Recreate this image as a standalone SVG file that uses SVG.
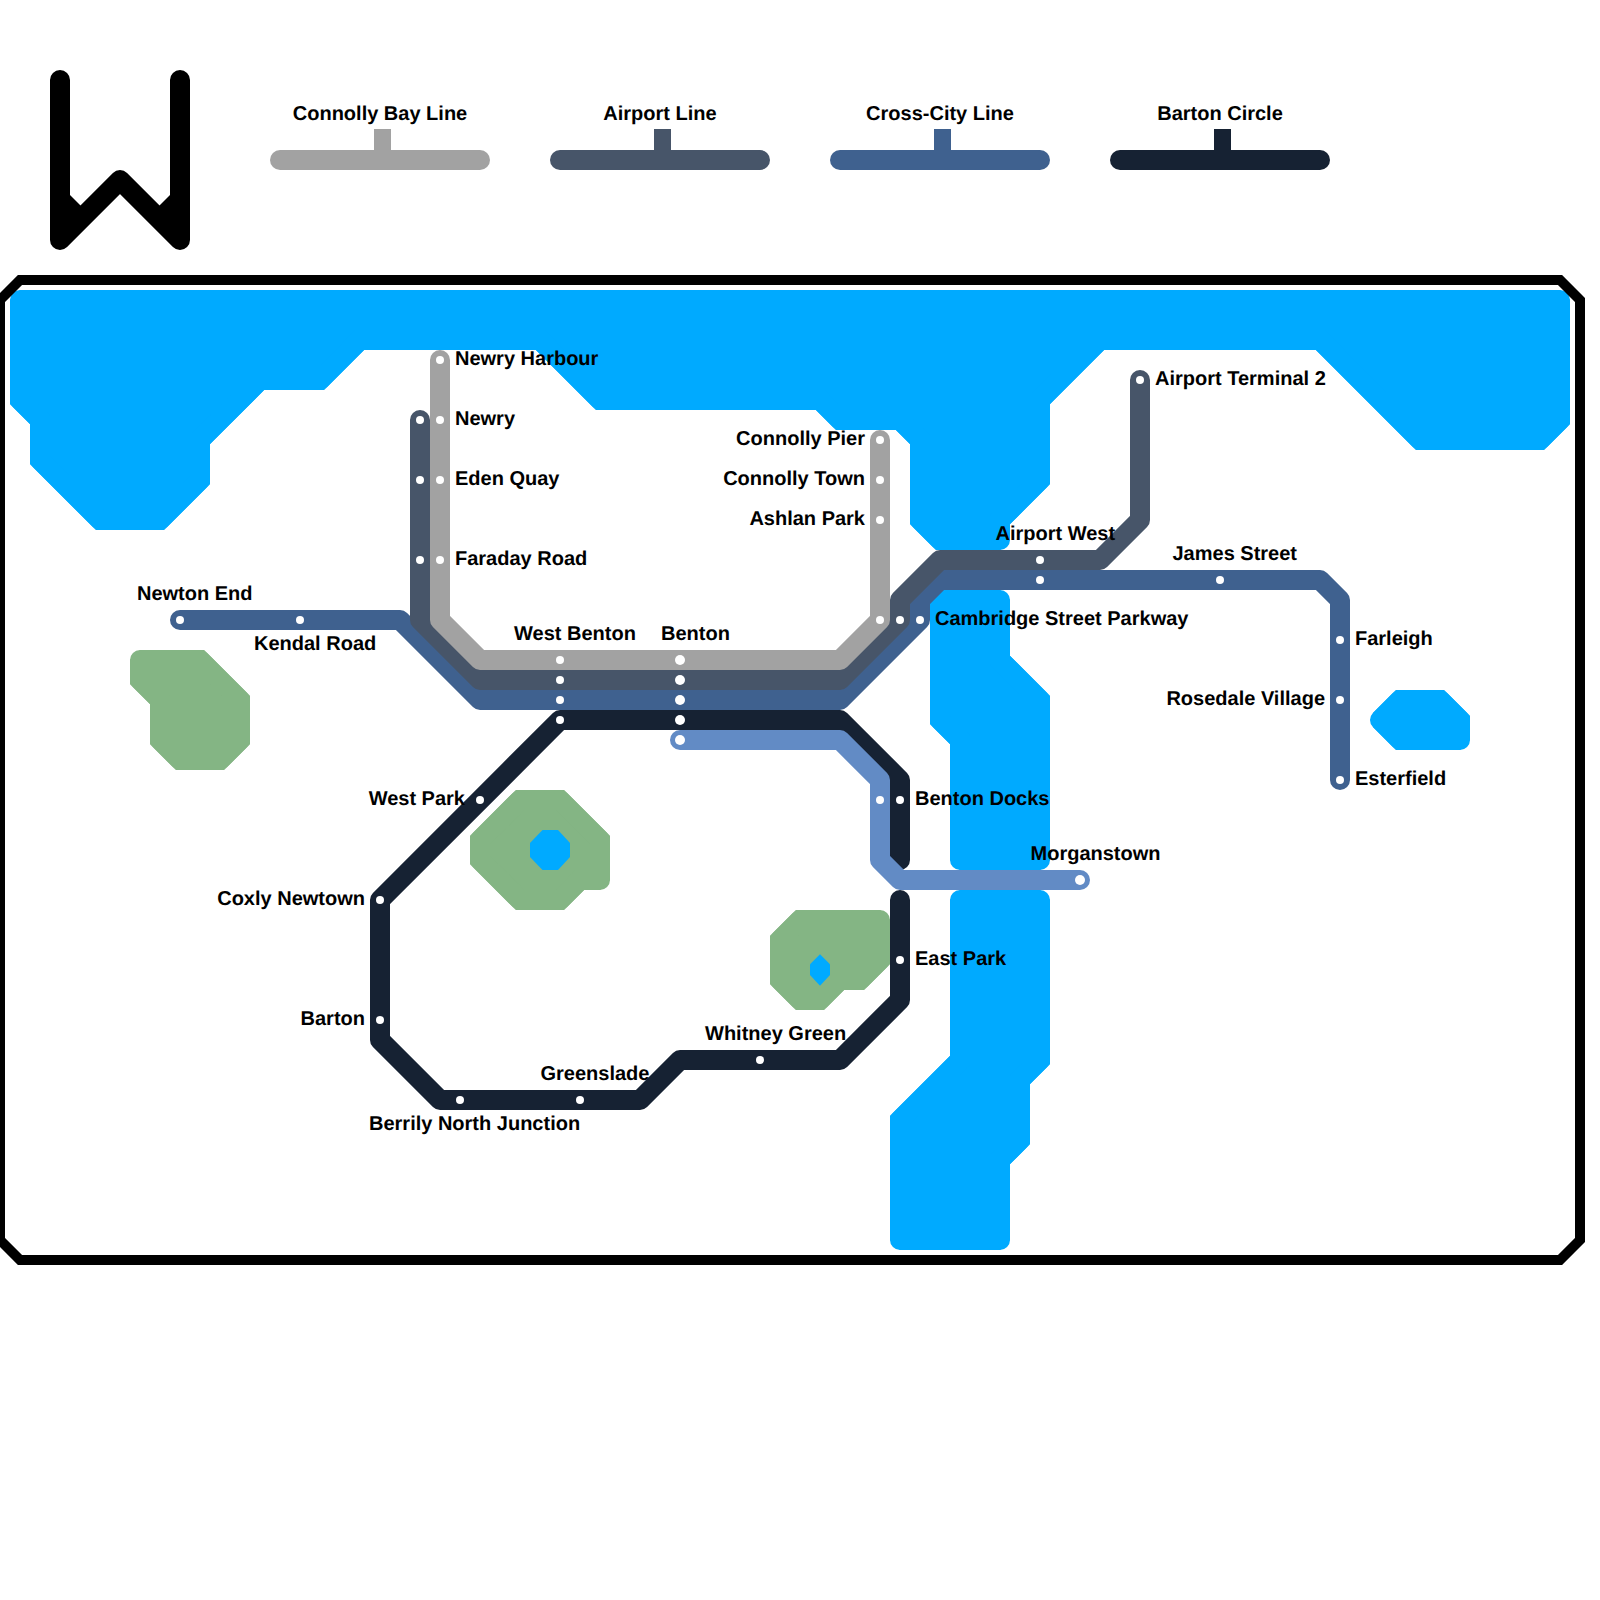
<svg xmlns="http://www.w3.org/2000/svg" width="1600" height="1600" viewBox="0 0 1600 1600">
<style>
text{font-family:"Liberation Sans",Arial,sans-serif;font-weight:700;font-size:20px;fill:#000;text-rendering:geometricPrecision}
.e{text-anchor:end}.m{text-anchor:middle}
.water{fill:#0af;stroke:#0af;stroke-width:20}
.park{fill:#84b584;stroke:#84b584;stroke-width:20}
.rnd{stroke-linejoin:round}
.mit{stroke-linejoin:miter;stroke-miterlimit:1.2}
.line{fill:none;stroke-width:20;stroke-linejoin:round;stroke-linecap:round}
.st{fill:#fff}
.l1{stroke:#a2a2a2}.l2{stroke:#475569}.l3{stroke:#3f618f}.l4{stroke:#162233}.l5{stroke:#628bc5}
</style>
<rect width="1600" height="1600" fill="#fff"/>
<g id="water">
<g class="water rnd"><g id="water-shapes">
<polygon points="20,300 1560,300 1560,420 1540,440 1420,440 1320,340 1100,340 1040,400 1040,480 1000,520 1000,540 940,540 920,520 920,440 900,420 840,420 820,400 600,400 540,340 360,340 320,380 260,380 200,440 200,480 160,520 100,520 40,460 40,420 20,400"/>
<polygon points="940,600 1000,600 1000,660 1040,700 1040,860 960,860 960,740 940,720"/>
<polygon points="960,900 1040,900 1040,1060 1020,1080 1020,1140 1000,1160 1000,1240 900,1240 900,1120 960,1060"/>
<polygon points="1400,700 1440,700 1460,720 1460,740 1400,740 1380,720"/>
</g></g>
<g class="water mit"><use href="#water-shapes"/></g>
</g>
<g id="parks">
<g class="park rnd"><g id="park-shapes">
<polygon points="140,660 200,660 240,700 240,740 220,760 180,760 160,740 160,700 140,680"/>
<polygon points="520,800 560,800 600,840 600,880 580,880 560,900 520,900 480,860 480,840"/>
<polygon points="800,920 880,920 880,960 860,980 840,980 820,1000 800,1000 780,980 780,940"/>
</g></g>
<g class="park mit"><use href="#park-shapes"/></g>
<polygon fill="#0af" points="542.500,830 558,830 570,843 570,857 558,870 542.500,870 530,857 530,843"/>
<polygon fill="#0af" points="820,954.300 830,964.300 830,975 820,985.700 810,975 810,964.300"/>
</g>
<path id="border" fill="none" stroke="#000" stroke-width="10" d="M20,280H1560L1580,300V1240L1560,1260H20L0,1240V300Z"/>
<g id="logo">
<path fill="#000" d="M60,185L85,210L60,235ZM180,185L155,210L180,235Z"/>
<path fill="none" stroke="#000" stroke-width="20" stroke-linejoin="round" stroke-linecap="round" d="M60,80V240L120,180L180,240V80"/>
</g>
<g id="legend">
<g id="legend-connolly"><path class="line l1" d="M280,160H480"/><rect x="374" y="129" width="17" height="21" fill="#a2a2a2"/><text class="m" x="380" y="120">Connolly Bay Line</text></g>
<g id="legend-airport"><path class="line l2" d="M560,160H760"/><rect x="654" y="129" width="17" height="21" fill="#475569"/><text class="m" x="660" y="120">Airport Line</text></g>
<g id="legend-cross"><path class="line l3" d="M840,160H1040"/><rect x="934" y="129" width="17" height="21" fill="#3f618f"/><text class="m" x="940" y="120">Cross-City Line</text></g>
<g id="legend-barton"><path class="line l4" d="M1120,160H1320"/><rect x="1214" y="129" width="17" height="21" fill="#162233"/><text class="m" x="1220" y="120">Barton Circle</text></g>
</g>
<g id="connectors">
<path class="line l4" d="M900,900V1000L840,1060H680L640,1100H440L380,1040V900L560,720H840L900,780V860"/>
<path class="line l3" d="M180,620H400L480,700H840L920,620V600L940,580H1320L1340,600V780"/>
<path class="line l2" d="M420,420V620L480,680H840L900,620V600L940,560H1100L1140,520V380"/>
<path class="line l1" d="M440,360V620L480,660H840L880,620V440"/>
<path class="line l5" d="M680,740H840L880,780V860L900,880H1080"/>
</g>
<g id="stations">
<g id="newton-end"><circle class="st" cx="180" cy="620" r="4"/><text x="137" y="600">Newton End</text></g>
<g id="kendal-road"><circle class="st" cx="300" cy="620" r="4"/><text x="254" y="650">Kendal Road</text></g>
<g id="newry-harbour"><circle class="st" cx="440" cy="360" r="4"/><text x="455" y="365">Newry Harbour</text></g>
<g id="newry"><circle class="st" cx="420" cy="420" r="4"/><circle class="st" cx="440" cy="420" r="4"/><text x="455" y="425">Newry</text></g>
<g id="eden-quay"><circle class="st" cx="420" cy="480" r="4"/><circle class="st" cx="440" cy="480" r="4"/><text x="455" y="485">Eden Quay</text></g>
<g id="faraday-road"><circle class="st" cx="420" cy="560" r="4"/><circle class="st" cx="440" cy="560" r="4"/><text x="455" y="565">Faraday Road</text></g>
<g id="connolly-pier"><circle class="st" cx="880" cy="440" r="4"/><text class="e" x="865" y="445">Connolly Pier</text></g>
<g id="connolly-town"><circle class="st" cx="880" cy="480" r="4"/><text class="e" x="865" y="485">Connolly Town</text></g>
<g id="ashlan-park"><circle class="st" cx="880" cy="520" r="4"/><text class="e" x="865" y="525">Ashlan Park</text></g>
<g id="airport-terminal-2"><circle class="st" cx="1140" cy="380" r="4"/><text x="1155" y="385">Airport Terminal 2</text></g>
<g id="airport-west"><circle class="st" cx="1040" cy="560" r="4"/><circle class="st" cx="1040" cy="580" r="4"/><text x="995.500" y="540">Airport West</text></g>
<g id="james-street"><circle class="st" cx="1220" cy="580" r="4"/><text x="1172.500" y="560">James Street</text></g>
<g id="cambridge-street-parkway"><circle class="st" cx="880" cy="620" r="4"/><circle class="st" cx="900" cy="620" r="4"/><circle class="st" cx="920" cy="620" r="4"/><text x="935" y="625">Cambridge Street Parkway</text></g>
<g id="farleigh"><circle class="st" cx="1340" cy="640" r="4"/><text x="1355" y="645">Farleigh</text></g>
<g id="rosedale-village"><circle class="st" cx="1340" cy="700" r="4"/><text class="e" x="1325" y="705">Rosedale Village</text></g>
<g id="esterfield"><circle class="st" cx="1340" cy="780" r="4"/><text x="1355" y="785">Esterfield</text></g>
<g id="west-benton"><circle class="st" cx="560" cy="660" r="4"/><circle class="st" cx="560" cy="680" r="4"/><circle class="st" cx="560" cy="700" r="4"/><circle class="st" cx="560" cy="720" r="4"/><text x="514" y="640">West Benton</text></g>
<g id="benton"><circle class="st" cx="680" cy="660" r="5"/><circle class="st" cx="680" cy="680" r="5"/><circle class="st" cx="680" cy="700" r="5"/><circle class="st" cx="680" cy="720" r="5"/><circle class="st" cx="680" cy="740" r="5"/><text x="661" y="640">Benton</text></g>
<g id="west-park"><circle class="st" cx="480" cy="800" r="4"/><text class="e" x="465" y="805">West Park</text></g>
<g id="coxly-newtown"><circle class="st" cx="380" cy="900" r="4"/><text class="e" x="365" y="905">Coxly Newtown</text></g>
<g id="barton"><circle class="st" cx="380" cy="1020" r="4"/><text class="e" x="365" y="1025">Barton</text></g>
<g id="berrily-north-junction"><circle class="st" cx="460" cy="1100" r="4"/><text x="369" y="1130">Berrily North Junction</text></g>
<g id="greenslade"><circle class="st" cx="580" cy="1100" r="4"/><text x="540.500" y="1080">Greenslade</text></g>
<g id="whitney-green"><circle class="st" cx="760" cy="1060" r="4"/><text x="705" y="1040">Whitney Green</text></g>
<g id="east-park"><circle class="st" cx="900" cy="960" r="4"/><text x="915" y="965">East Park</text></g>
<g id="benton-docks"><circle class="st" cx="880" cy="800" r="4"/><circle class="st" cx="900" cy="800" r="4"/><text x="915" y="805">Benton Docks</text></g>
<g id="morganstown"><circle class="st" cx="1080" cy="880" r="5"/><text x="1030.500" y="860">Morganstown</text></g>
</g>
</svg>
